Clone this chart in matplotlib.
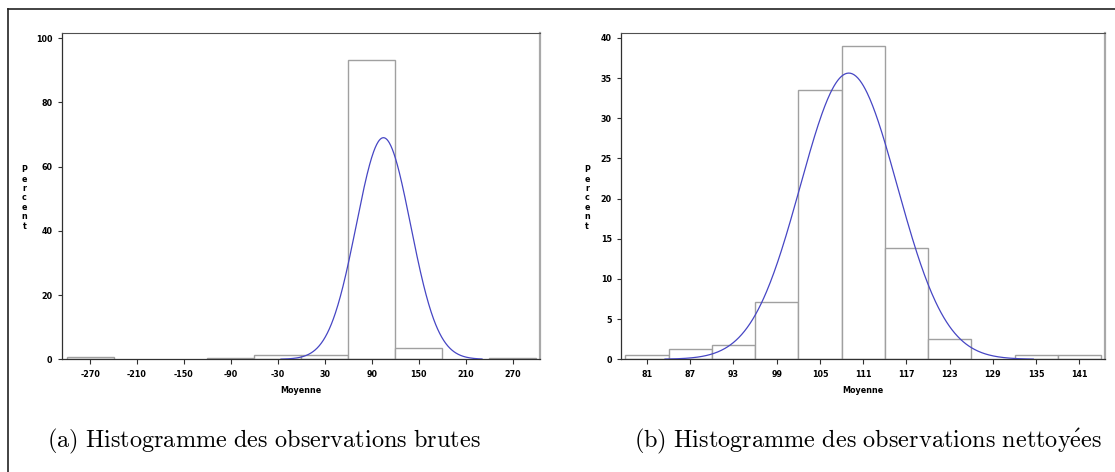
import numpy as np
import matplotlib
matplotlib.use('Agg')
import matplotlib.pyplot as plt
from matplotlib.lines import Line2D

plt.rcParams['axes.unicode_minus'] = False
plt.rcParams['mathtext.fontset'] = 'cm'

# raw observations (a)
raw_centers = [-270, -210, -150, -90, -30, 30, 90, 150, 210, 270]
raw_percent = [0.6, 0, 0, 0.5, 1.3, 1.3, 93.3, 3.4, 0, 0.5]
raw_bin = 60
raw_mean, raw_sd = 105, 34.7
raw_curve_range = (-26, 231)
raw_yticks = [0, 20, 40, 60, 80, 100]

# cleaned observations (b)
clean_centers = [81, 87, 93, 99, 105, 111, 117, 123, 129, 135, 141]
clean_percent = [0.5, 1.25, 1.74, 7.19, 33.5, 39.0, 13.8, 2.49, 0, 0.5, 0.5]
clean_bin = 6
clean_mean, clean_sd = 109, 6.72
clean_curve_range = (83.5, 134.6)
clean_yticks = [0, 5, 10, 15, 20, 25, 30, 35, 40]

captions = [r'$\mathrm{(a)\ Histogramme\ des\ observations\ brutes}$',
            r'$\mathrm{(b)\ Histogramme\ des\ observations\ nettoy\acute{e}es}$']

BAR_EDGE = '#a0a0a0'
CURVE = '#4646c4'
DARK = '#303030'


def draw_panel(ax, centers, percent, binw, mean, sd, crange, yticks, ytop):
    c = np.array(centers, dtype=float)
    p = np.array(percent, dtype=float)
    keep = p > 0
    ax.bar(c[keep], p[keep], width=binw, facecolor='white',
           edgecolor=BAR_EDGE, linewidth=1.0, zorder=1)

    # fitted normal curve, scaled to percent per bin
    x = np.linspace(crange[0], crange[1], 400)
    y = 100 * binw / (sd * np.sqrt(2 * np.pi)) * np.exp(-0.5 * ((x - mean) / sd) ** 2)
    ax.plot(x, y, color=CURVE, linewidth=0.9, zorder=3)

    pad = binw * 0.092
    ax.set_xlim(c[0] - binw / 2 - pad, c[-1] + binw / 2 + pad)
    ax.set_ylim(0, ytop)
    ax.set_xticks(centers)
    ax.set_yticks(yticks)
    ax.tick_params(axis='both', labelsize=5.8, colors=DARK, width=0.8)
    ax.tick_params(axis='x', length=3.6, pad=4)
    ax.tick_params(axis='y', length=3.0, pad=4)
    for lab in ax.get_xticklabels() + ax.get_yticklabels():
        lab.set_fontweight('bold')
        lab.set_color('black')

    ax.spines['left'].set_color(DARK)
    ax.spines['bottom'].set_color(DARK)
    ax.spines['left'].set_linewidth(0.9)
    ax.spines['bottom'].set_linewidth(0.9)
    ax.spines['top'].set_color('#505050')
    ax.spines['top'].set_linewidth(0.8)
    ax.spines['right'].set_color('#a8a8a8')
    ax.spines['right'].set_linewidth(1.6)

    ax.set_xlabel('Moyenne', fontsize=5.8, fontweight='bold', labelpad=5)


fig = plt.figure(figsize=(11.15, 4.72), dpi=100)

ax1 = fig.add_axes([62.3 / 1115, 0.2388, 478 / 1115, 0.6915])
ax2 = fig.add_axes([621.4 / 1115, 0.2388, 483.6 / 1115, 0.6915])

draw_panel(ax1, raw_centers, raw_percent, raw_bin, raw_mean, raw_sd,
           raw_curve_range, raw_yticks, 101.6)
draw_panel(ax2, clean_centers, clean_percent, clean_bin, clean_mean, clean_sd,
           clean_curve_range, clean_yticks, 40.62)

# stacked "Percent" labels
for xpix in (24.3, 587):
    fig.text(xpix / 1115, (472 - 198) / 472, '\n'.join('Percent'),
             ha='center', va='center', fontsize=5.8, fontweight='bold',
             linespacing=1.05)

# sub-figure captions
fig.text(47 / 1115, (472 - 441) / 472, captions[0], ha='left', va='center',
         fontsize=17.5)
fig.text(1102 / 1115, (472 - 441) / 472, captions[1], ha='right', va='center',
         fontsize=17.5)

# outer frame (top and left edges only)
fig.add_artist(Line2D([8.3 / 1115, 8.3 / 1115], [0, (472 - 9.3) / 472],
                      color='#222222', linewidth=1.2))
fig.add_artist(Line2D([8.3 / 1115, 1], [(472 - 9.3) / 472, (472 - 9.3) / 472],
                      color='#222222', linewidth=1.2))

fig.savefig('out.png', dpi=100)
